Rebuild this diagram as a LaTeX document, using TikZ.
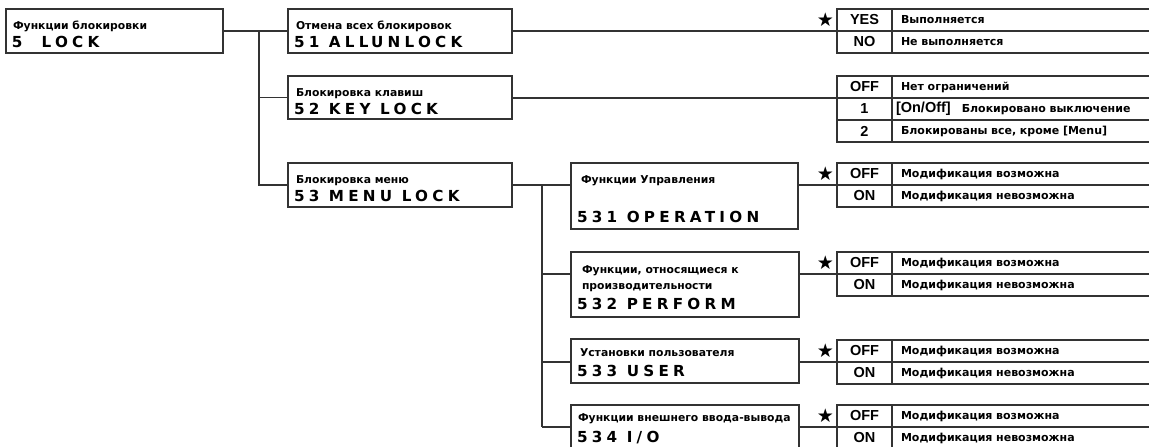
\documentclass[tikz,border=0pt]{standalone}
\usepackage{fontspec}
\setmainfont{DejaVu Sans}
\newfontfamily\keyfont{Liberation Sans}
\newfontfamily\codefont{DejaVu Sans}[LetterSpace=28]
\newfontfamily\symfont{DejaVu Sans}
\usetikzlibrary{positioning}

\begin{document}
\begin{tikzpicture}[x=1pt, y=-1pt,
    every node/.style={outer sep=0pt},
    menubox/.style={draw=black!80, line width=1.6pt, anchor=north west, inner sep=0pt},
    ttl/.style={anchor=base west, inner sep=0pt, font=\fontsize{10.8}{13}\selectfont\bfseries},
    codetxt/.style={anchor=base west, inner sep=0pt, font=\codefont\fontsize{15.2}{17}\selectfont\bfseries},
    keycell/.style={draw=black!80, line width=1.6pt, anchor=north west, minimum width=55pt,
                    minimum height=22pt, inner sep=0pt, font=\keyfont\fontsize{14.5}{16}\selectfont\bfseries},
    desccell/.style={draw=black!80, line width=1.6pt, minimum height=22pt, text width=300pt,
                     inner xsep=9pt, inner ysep=0pt, align=left, font=\fontsize{11}{13}\selectfont\bfseries},
    starmark/.style={inner sep=0pt, font=\symfont\fontsize{19}{19}\selectfont},
    wire/.style={draw=black!80, line width=1.6pt}]

  \useasboundingbox (0,0) rectangle (1149,447);
  \fill[white] (0,0) rectangle (1149,447);
  \clip (0,0) rectangle (1149,447);

  % menu boxes
  \node[menubox, minimum width=217pt, minimum height=44pt] (b5) at (6,9) {};
  \node[ttl] (t5) at ([shift={(7,20)}]b5.north west) {Функции блокировки};
  \node[codetxt] (c5) at ([shift={(6,38.5)}]b5.north west) {5\ \ LOCK};

  \node[menubox, minimum width=224pt, minimum height=44pt] (b51) at (288,9) {};
  \node[ttl] (t51) at ([shift={(8,20)}]b51.north west) {Отмена всех блокировок};
  \node[codetxt] (c51) at ([shift={(6,38.5)}]b51.north west) {51 ALL\hspace{2.5pt}UNLOCK};

  \node[menubox, minimum width=224pt, minimum height=43pt] (b52) at (288,76) {};
  \node[ttl] (t52) at ([shift={(8,20)}]b52.north west) {Блокировка клавиш};
  \node[codetxt] (c52) at ([shift={(6,38)}]b52.north west) {52 KEY LOCK};

  \node[menubox, minimum width=224pt, minimum height=44pt] (b53) at (288,163) {};
  \node[ttl] (t53) at ([shift={(8,20)}]b53.north west) {Блокировка меню};
  \node[codetxt] (c53) at ([shift={(6,38.5)}]b53.north west) {53 MENU LOCK};

  \node[menubox, minimum width=227pt, minimum height=66pt] (b531) at (571,163) {};
  \node[ttl] (t531) at ([shift={(10,20)}]b531.north west) {Функции Управления};
  \node[codetxt] (c531) at ([shift={(6,59)}]b531.north west) {531 OPERATION};

  \node[menubox, minimum width=228pt, minimum height=65pt] (b532) at (571,252) {};
  \node[ttl] (t532a) at ([shift={(11,21)}]b532.north west) {Функции, относящиеся к};
  \node[ttl] (t532b) at ([shift={(11,37)}]b532.north west) {производительности};
  \node[codetxt] (c532) at ([shift={(6,57.5)}]b532.north west) {532 PERFORM};

  \node[menubox, minimum width=228pt, minimum height=44pt] (b533) at (571,339) {};
  \node[ttl] (t533) at ([shift={(9,17.5)}]b533.north west) {Установки пользователя};
  \node[codetxt] (c533) at ([shift={(6,37.5)}]b533.north west) {533 USER};

  \node[menubox, minimum width=228pt, minimum height=46pt] (b534) at (571,405) {};
  \node[ttl] (t534) at ([shift={(7,16)}]b534.north west) {Функции внешнего ввода-вывода};
  \node[codetxt] (c534) at ([shift={(6,37.5)}]b534.north west) {534 I/O};

  % option tables
  \node[keycell] (k51a) at (837,9) {YES};
  \node[keycell, below=0pt of k51a] (k51b) {NO};
  \node[desccell, right=0pt of k51a] (d51a) {Выполняется};
  \node[desccell, right=0pt of k51b] (d51b) {Не выполняется};
  \node[starmark, left=3pt of k51a] (s51) {★};

  \node[keycell] (k52a) at (837,76) {OFF};
  \node[keycell, below=0pt of k52a] (k52b) {1};
  \node[keycell, below=0pt of k52b] (k52c) {2};
  \node[desccell, right=0pt of k52a] (d52a) {Нет ограничений};
  \node[desccell, right=0pt of k52b] (d52b)
      {\hspace*{-5pt}{\keyfont\fontsize{14.5}{16}\selectfont [On/Off]}\hspace{11pt}Блокировано выключение};
  \node[desccell, right=0pt of k52c] (d52c) {Блокированы все, кроме [Menu]};

  \foreach \n/\y in {531/163, 532/252, 533/340, 534/405} {
    \node[keycell] (k\n a) at (837,\y) {OFF};
    \node[keycell, below=0pt of k\n a] (k\n b) {ON};
    \node[desccell, right=0pt of k\n a] (d\n a) {Модификация возможна};
    \node[desccell, right=0pt of k\n b] (d\n b) {Модификация невозможна};
    \node[starmark, left=3pt of k\n a] (s\n) {★};
  }

  % connectors
  \coordinate (j1) at (259,0);
  \coordinate (j2) at (542,0);
  \draw[wire] (b5.east) -- (b51.west);
  \draw[wire] (b5.east -| j1) |- (b52.west);
  \draw[wire] (b5.east -| j1) |- (b53.west);
  \draw[wire] (b51.east) -- (k51a.south west);
  \draw[wire] (k52a.south west) -- (k52a.south west -| b52.east);
  \draw[wire] (b53.east) -| (j2 |- k534a.south);
  \foreach \n in {531,532,533,534} {
    \draw[wire] (j2 |- k\n a.south) -- (b\n.west |- k\n a.south);
    \draw[wire] (k\n a.south west) -- (k\n a.south west -| b\n.east);
  }
\end{tikzpicture}
\end{document}
